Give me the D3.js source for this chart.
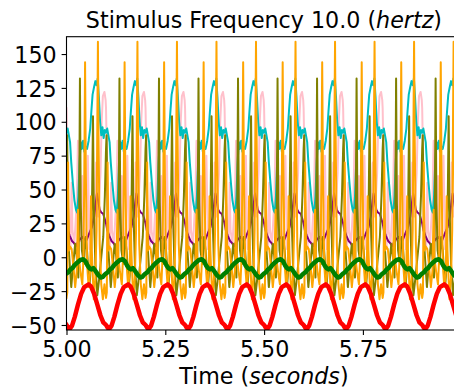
<!DOCTYPE html>
<html>
<head>
<meta charset="utf-8">
<script src="https://cdn.jsdelivr.net/npm/d3@7"></script>
<style>
  html, body { margin: 0; padding: 0; background: #fff; }
  svg { display: block; font-family: "DejaVu Sans", sans-serif; }
</style>
</head>
<body>
<svg id="chart" width="454" height="389"></svg>
<script>
// Axis ticks
const xTicks = [5.0, 5.25, 5.5, 5.75];
const yTicks = [-50, -25, 0, 25, 50, 75, 100, 125, 150];

// Start time of each 100 ms stimulus cycle (10 Hz) shown in the window
const cycleStarts = [5.0, 5.1, 5.2, 5.3, 5.4, 5.5, 5.6, 5.7, 5.8, 5.9];

// One stimulus cycle of each trace: [milliseconds into the cycle, value]
const pinkCycle = [
  [0, 110], [3, 60], [6, 22], [10, 6], [13, 55], [15, 20], [20, 10], [26, 42], [29, 86],
  [31, 52], [35, 12], [40, 60], [42, 2], [50, 22], [54, 75], [58, 6], [65, 32], [72, 12],
  [75, 70], [80, 30], [86, 62], [89, 100], [92, 119], [96, 122], [99, 116], [100, 110]
];
const purpleCycle = [
  [0, 25], [3, 20], [8, 16], [14, 12], [20, 10], [24, 8], [30, 12], [40, 15], [50, 12],
  [58, 18], [64, 22], [70, 30], [74, 40], [77, 47], [80, 42], [84, 35], [88, 33], [93, 32],
  [97, 28], [100, 25]
];
const cyanCycle = [
  [0, 92], [3, 95], [6, 90], [9, 85], [12, 70], [16, 55], [20, 42], [24, 35], [27, 33],
  [30, 45], [33, 70], [36, 85], [39, 80], [42, 86], [45, 78], [48, 82], [52, 80], [56, 86],
  [60, 95], [63, 108], [66, 120], [70, 126], [73, 130], [76, 127], [79, 132], [82, 118],
  [85, 100], [88, 90], [91, 96], [94, 88], [97, 94], [100, 92]
];
const oliveCycle = [
  [0, 80], [1.5, 90], [3, 50], [6, 5], [12, -22], [17, -5], [22, 10], [26, 0], [30, -15],
  [32, 30], [34, 132], [36, 40], [39, 5], [44, -5], [48, 15], [52, 5], [58, -22], [62, -5],
  [65, 50], [67, 104], [69, 40], [73, -5], [78, -28], [83, -15], [88, 0], [93, 15],
  [97, 45], [100, 80]
];
const orangeCycle = [
  [0, -30], [2, -26], [4, 70], [6, 5], [9, 8], [13, 6], [17, -5], [22, -22], [26, -10],
  [29, 35], [31, 0], [35, -10], [40, -20], [43, 0], [45, 60], [47, 144], [49, 60], [52, -5],
  [56, -22], [60, -10], [62, 45], [64, 5], [69, -31], [73, -15], [76, 20], [78, 100],
  [79.5, 159], [81, 90], [84, 10], [88, -20], [92, -31], [96, -20], [100, -30]
];
const greenCycle = [
  [0, -12], [5, -11], [10, -9], [15, -8], [20, -6], [27, -4], [35, -2], [42, -1.5],
  [48, -3], [53, -6], [58, -8], [63, -9], [68, -8], [73, -10], [80, -13], [87, -15],
  [92, -14.5], [96, -13], [100, -12]
];
const redCycle = [
  [0, -50], [4, -52], [8, -53], [14, -50.5], [21, -44], [29, -35], [37, -27], [45, -22],
  [56, -20], [62, -21.5], [70, -27], [78, -35], [86, -43], [93, -48], [100, -50]
];

// Traces in drawing order
const traces = [
  { cycle: pinkCycle,   color: "#ffc0cb", width: 2 },
  { cycle: purpleCycle, color: "#800080", width: 2 },
  { cycle: cyanCycle,   color: "#00bfbf", width: 2 },
  { cycle: oliveCycle,  color: "#808000", width: 2 },
  { cycle: orangeCycle, color: "#ffa500", width: 2 },
  { cycle: greenCycle,  color: "#008000", width: 4.5 },
  { cycle: redCycle,    color: "#ff0000", width: 4.5 }
];

// Lay the cycle out over every stimulus period
function expand(cycle) {
  const pts = [];
  cycleStarts.forEach((s, i) => {
    cycle.forEach(([ms, v], j) => {
      if (j === cycle.length - 1 && i < cycleStarts.length - 1) return;
      pts.push([s + ms / 1000, v]);
    });
  });
  return pts;
}

const svg = d3.select("#chart");
const plotLeft = 66.5, plotTop = 36.7, plotBottom = 330;
const x = d3.scaleLinear().domain([5.0, 5.999]).range([plotLeft, plotLeft + 395.2 * 0.999]);
const y = d3.scaleLinear().domain([-53.7, 162.8]).range([plotBottom, plotTop]);
const plotRight = x.range()[1];
const FS = 22.2;

svg.append("defs").append("clipPath").attr("id", "plot")
  .append("rect").attr("x", plotLeft).attr("y", plotTop)
  .attr("width", plotRight - plotLeft).attr("height", plotBottom - plotTop);

const line = d3.line().x(d => x(d[0])).y(d => y(d[1]));
const g = svg.append("g").attr("clip-path", "url(#plot)");
traces.forEach(tr => {
  g.append("path")
    .attr("d", line(expand(tr.cycle)))
    .attr("fill", "none")
    .attr("stroke", tr.color)
    .attr("stroke-width", tr.width)
    .attr("stroke-linejoin", "round")
    .attr("stroke-linecap", "square");
});

// Frame
svg.append("rect")
  .attr("x", plotLeft).attr("y", plotTop)
  .attr("width", plotRight - plotLeft).attr("height", plotBottom - plotTop)
  .attr("fill", "none").attr("stroke", "#000").attr("stroke-width", 1.1);

const fmtY = v => (v < 0 ? "\u2212" + Math.abs(v) : String(v));

// Axes
const xAxis = d3.axisBottom(x).tickValues(xTicks).tickFormat(d3.format(".2f"))
  .tickSize(4.9).tickPadding(4.9);
const yAxis = d3.axisLeft(y).tickValues(yTicks).tickFormat(fmtY)
  .tickSize(4.9).tickPadding(4.9);

const gx = svg.append("g").attr("transform", `translate(0,${plotBottom})`).call(xAxis);
const gy = svg.append("g").attr("transform", `translate(${plotLeft},0)`).call(yAxis);
[gx, gy].forEach(a => {
  a.select(".domain").remove();
  a.selectAll(".tick line").attr("stroke", "#000").attr("stroke-width", 1.1);
  a.selectAll(".tick text").attr("fill", "#000")
    .style("font-family", "'DejaVu Sans', sans-serif").style("font-size", FS + "px");
});
gx.selectAll(".tick text").attr("dy", null).attr("y", 27);
gy.selectAll(".tick text").attr("dy", null).attr("y", 8.1);

// Title
const title = svg.append("text")
  .attr("x", (plotLeft + plotRight) / 2).attr("y", 28.4)
  .attr("text-anchor", "middle").style("font-size", FS + "px").attr("fill", "#000");
title.append("tspan").text("Stimulus Frequency 10.0 (");
title.append("tspan").attr("font-style", "italic").text("hertz");
title.append("tspan").text(")");

// X label
const xl = svg.append("text")
  .attr("x", (plotLeft + plotRight) / 2).attr("y", 383.5)
  .attr("text-anchor", "middle").style("font-size", FS + "px").attr("fill", "#000");
xl.append("tspan").text("Time (");
xl.append("tspan").attr("font-style", "italic").text("seconds");
xl.append("tspan").text(")");
</script>
</body>
</html>
